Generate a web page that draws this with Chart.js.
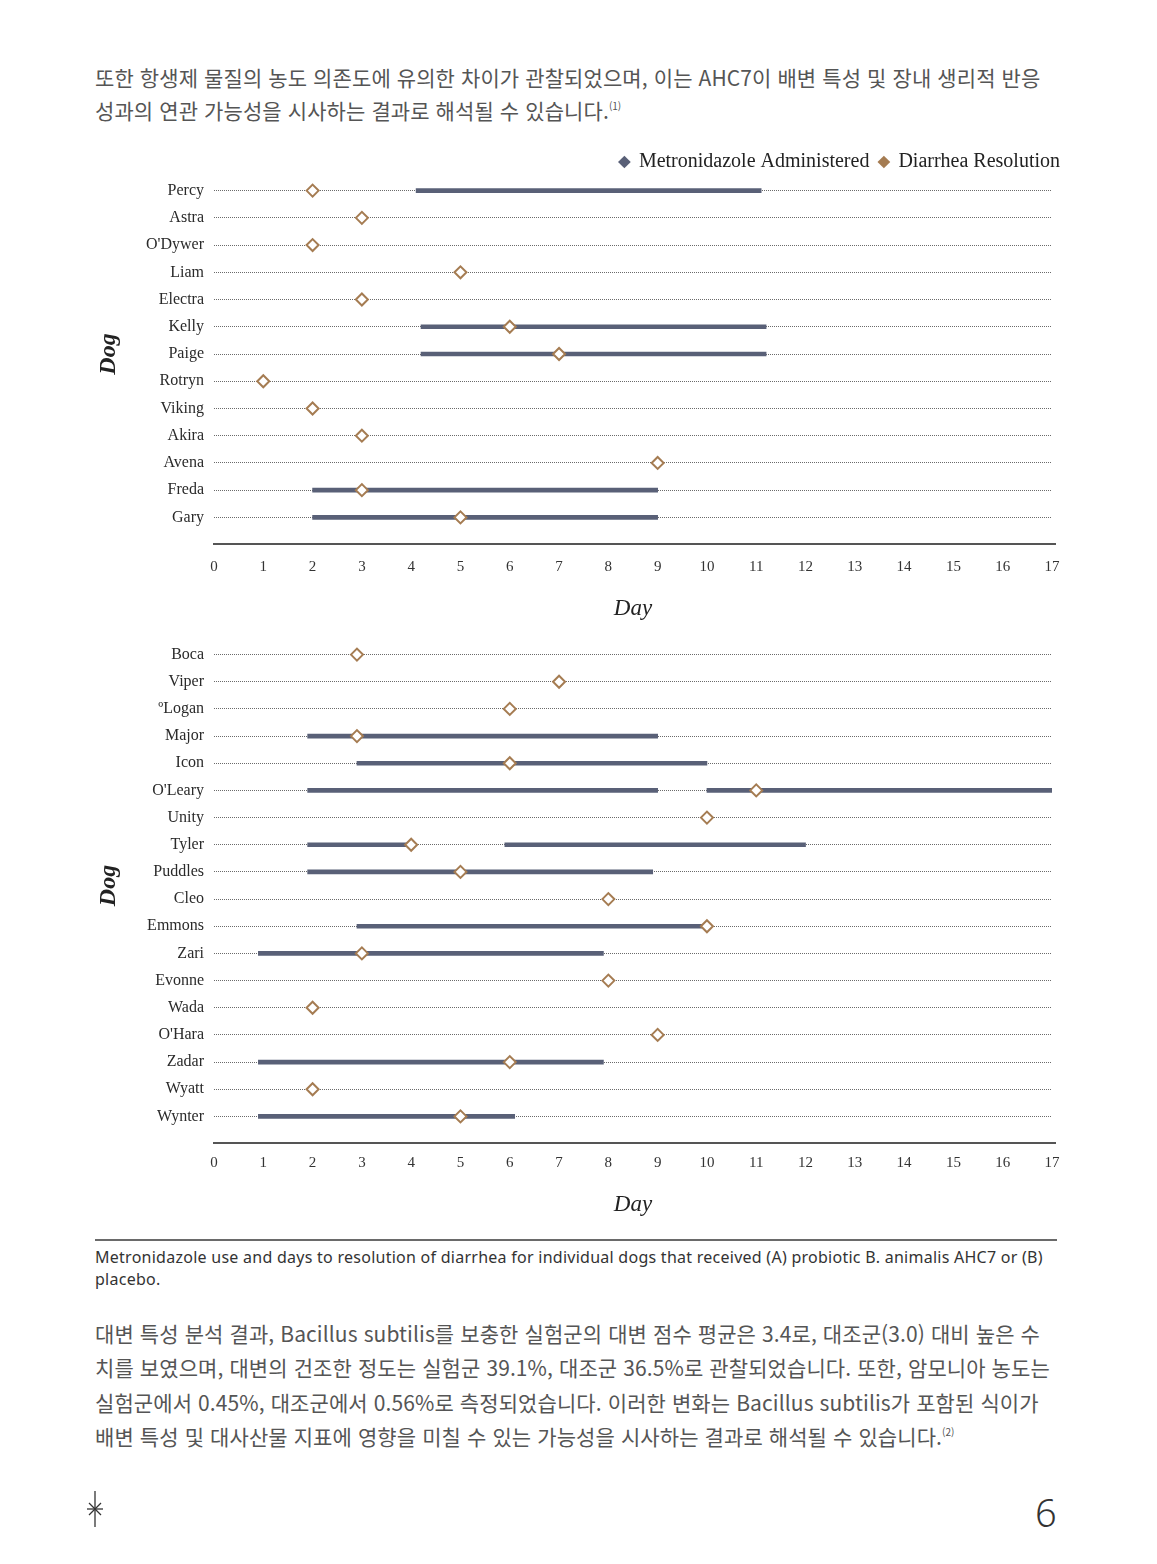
<!DOCTYPE html>
<html lang="ko">
<head>
<meta charset="utf-8">
<title>Metronidazole use and days to resolution of diarrhea</title>
<script src="https://cdn.jsdelivr.net/npm/chart.js@4.4.1/dist/chart.umd.min.js"></script>
<style>
  html, body { margin: 0; padding: 0; background: #fff; }
  body { width: 1157px; height: 1564px; position: relative; overflow: hidden;
         font-family: "Noto Sans CJK KR", "Noto Sans", sans-serif; }
  .para { position: absolute; left: 95px; color: #555; font-size: 21px; white-space: nowrap; letter-spacing: 0.1px; }
  #intro { top: 61px; line-height: 33px; }
  #outro { top: 1316px; line-height: 34.3px; }
  sup { font-size: 10px; line-height: 0; vertical-align: baseline; position: relative; top: -9px; letter-spacing: 0; }
  .box { position: absolute; left: 90px; width: 980px; }
  #boxA { top: 142px; height: 489px; }
  #boxB { top: 630px; height: 597px; }
  #rule { position: absolute; left: 95px; top: 1239px; width: 962px; height: 2px; background: #6a6a6a; }
  #caption { position: absolute; left: 95px; top: 1246px; font-family: "Noto Sans", sans-serif; font-size: 16px;
             line-height: 22px; color: #333; white-space: nowrap; letter-spacing: 0.26px; }
  #page { position: absolute; left: 1035px; top: 1493px; font-family: "Noto Sans", sans-serif; font-size: 38px;
          line-height: 38px; font-weight: 300; color: #333; }
  #star { position: absolute; left: 85px; top: 1489px; }
</style>
</head>
<body>

<div id="intro" class="para">또한 항생제 물질의 농도 의존도에 유의한 차이가 관찰되었으며, 이는 AHC7이 배변 특성 및 장내 생리적 반응<br>성과의 연관 가능성을 시사하는 결과로 해석될 수 있습니다.<sup>(1)</sup></div>

<div id="boxA" class="box"><canvas id="chartA"></canvas></div>
<div id="boxB" class="box"><canvas id="chartB"></canvas></div>

<div id="rule"></div>
<div id="caption">Metronidazole use and days to resolution of diarrhea for individual dogs that received (A) probiotic B. animalis AHC7 or (B)<br>placebo.</div>

<div id="outro" class="para">대변 특성 분석 결과, Bacillus subtilis를 보충한 실험군의 대변 점수 평균은 3.4로, 대조군(3.0) 대비 높은 수<br>치를 보였으며, 대변의 건조한 정도는 실험군 39.1%, 대조군 36.5%로 관찰되었습니다. 또한, 암모니아 농도는<br>실험군에서 0.45%, 대조군에서 0.56%로 측정되었습니다. 이러한 변화는 Bacillus subtilis가 포함된 식이가<br>배변 특성 및 대사산물 지표에 영향을 미칠 수 있는 가능성을 시사하는 결과로 해석될 수 있습니다.<sup>(2)</sup></div>

<svg id="star" width="20" height="40" viewBox="0 0 20 40">
  <g stroke="#333" stroke-width="1.3" fill="none">
    <line x1="10" y1="2" x2="10" y2="38"/>
    <line x1="2" y1="20" x2="18" y2="20"/>
    <line x1="4" y1="14" x2="16" y2="26"/>
    <line x1="16" y1="14" x2="4" y2="26"/>
  </g>
</svg>
<div id="page">6</div>

<script>
'use strict';

// (A) probiotic group
let dogsA = ['Percy', 'Astra', "O'Dywer", 'Liam', 'Electra', 'Kelly', 'Paige', 'Rotryn', 'Viking', 'Akira', 'Avena', 'Freda', 'Gary'];
let metroA = [[4.1, 11.1], null, null, null, null, [4.2, 11.2], [4.2, 11.2], null, null, null, null, [2, 9], [2, 9]];
let metroA2 = [null, null, null, null, null, null, null, null, null, null, null, null, null];
let resolvedA = [2, 3, 2, 5, 3, 6, 7, 1, 2, 3, 9, 3, 5];

// (B) placebo group
let dogsB = ['Boca', 'Viper', 'ºLogan', 'Major', 'Icon', "O'Leary", 'Unity', 'Tyler', 'Puddles', 'Cleo', 'Emmons', 'Zari', 'Evonne', 'Wada', "O'Hara", 'Zadar', 'Wyatt', 'Wynter'];
let metroB = [null, null, null, [1.9, 9], [2.9, 10], [1.9, 9], null, [1.9, 4], [1.9, 8.9], null, [2.9, 10], [0.9, 7.9], null, null, null, [0.9, 7.9], null, [0.9, 6.1]];
let metroB2 = [null, null, null, null, null, [10, 17], null, [5.9, 12], null, null, null, null, null, null, null, null, null, null];
let resolvedB = [2.9, 7, 6, 2.9, 6, 11, 10, 4, 5, 8, 10, 3, 8, 2, 9, 6, 2, 5];

let seriesNames = ['Metronidazole Administered', 'Diarrhea Resolution'];
let dayMin = 0;
let dayMax = 17;
let xTitle = 'Day';
let yTitle = 'Dog';

let metroColor = '#596077';
let resolveColor = '#a57c52';

Chart.defaults.font.family = "'Liberation Serif', 'DejaVu Serif', serif";
Chart.defaults.color = '#2a2a2a';

// solid axis line a little under the last row
let axisLine = {
  id: 'axisLine',
  afterDraw(chart, args, opts) {
    let ctx = chart.ctx;
    let area = chart.chartArea;
    let y = area.bottom + opts.gap;
    ctx.save();
    ctx.strokeStyle = '#555';
    ctx.lineWidth = 2;
    ctx.beginPath();
    ctx.moveTo(area.left - 1, y);
    ctx.lineTo(area.right + 4, y);
    ctx.stroke();
    ctx.restore();
  }
};

function drawChart(id, labels, course1, course2, resolved, showLegend, padTop, tickPad, xHeight) {
  let ctx = document.getElementById(id).getContext('2d');
  return new Chart(ctx, {
    type: 'bar',
    data: {
      labels: labels,
      datasets: [{
        type: 'line',
        label: seriesNames[1],
        data: resolved,
        showLine: false,
        pointStyle: 'rectRot',
        pointRadius: 6,
        pointHoverRadius: 6,
        pointBorderWidth: 2,
        pointBackgroundColor: '#fff',
        pointBorderColor: resolveColor,
        borderColor: resolveColor,
        backgroundColor: '#fff'
      }, {
        label: seriesNames[0],
        data: course1,
        backgroundColor: metroColor,
        barThickness: 4,
        grouped: false
      }, {
        label: seriesNames[0] + ' (2)',
        data: course2,
        backgroundColor: metroColor,
        barThickness: 4,
        grouped: false
      }]
    },
    options: {
      indexAxis: 'y',
      responsive: true,
      maintainAspectRatio: false,
      animation: false,
      layout: { padding: { top: padTop, right: 0, left: 0, bottom: 0 } },
      scales: {
        x: {
          type: 'linear',
          min: dayMin,
          max: dayMax,
          ticks: { stepSize: 1, padding: tickPad, font: { size: 15 }, color: '#333' },
          grid: { display: false, drawTicks: false },
          border: { display: false },
          title: { display: true, text: xTitle, font: { size: 23, style: 'italic' }, color: '#222', padding: { top: 0, bottom: 8 } },
          afterFit(scale) {
            scale.height = xHeight;
            scale.paddingLeft = 0;
            scale.paddingRight = 18;
          }
        },
        y: {
          ticks: { padding: 10, font: { size: 16 }, color: '#2a2a2a' },
          grid: { offset: false, drawTicks: false, color: '#6a6a6a', lineWidth: 1 },
          border: { display: false, dash: [1, 1] },
          title: { display: true, text: yTitle, font: { size: 24, style: 'italic', weight: 'bold' }, color: '#222' },
          afterFit(scale) {
            scale.width = 124;
            scale.paddingTop = 0;
            scale.paddingBottom = 0;
          }
        }
      },
      plugins: {
        axisLine: { gap: 13 },
        tooltip: { enabled: false },
        legend: {
          display: showLegend,
          position: 'top',
          align: 'end',
          maxHeight: 35,
          labels: {
            usePointStyle: true,
            boxWidth: 9,
            boxHeight: 9,
            padding: 10,
            font: { size: 20 },
            color: '#222',
            generateLabels() {
              return [
                { text: seriesNames[0], fillStyle: metroColor, strokeStyle: metroColor, lineWidth: 0, pointStyle: 'rectRot', datasetIndex: 1, fontColor: '#222' },
                { text: seriesNames[1], fillStyle: resolveColor, strokeStyle: resolveColor, lineWidth: 0, pointStyle: 'rectRot', datasetIndex: 0, fontColor: '#222' }
              ];
            }
          }
        }
      }
    },
    plugins: [axisLine]
  });
}

drawChart('chartA', dogsA, metroA, metroA2, resolvedA, true, 0, 27, 100);
drawChart('chartB', dogsB, metroB, metroB2, resolvedB, false, 11, 24, 97);
</script>
</body>
</html>
